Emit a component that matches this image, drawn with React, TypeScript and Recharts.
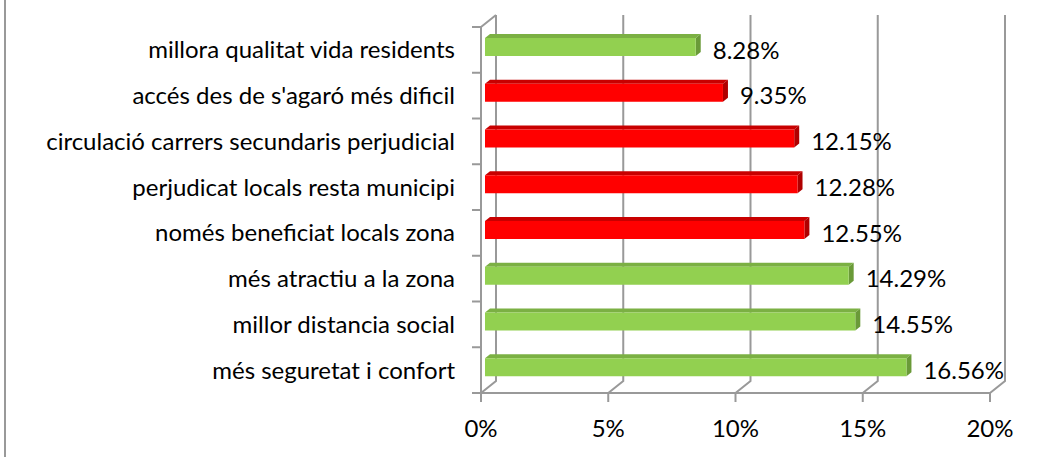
import { BarChart, Bar, XAxis, YAxis, CartesianGrid, LabelList, Cell } from "recharts";

const categories = [
  "millora qualitat vida residents",
  "accés des de s'agaró més dificil",
  "circulació carrers secundaris perjudicial",
  "perjudicat locals resta municipi",
  "només beneficiat locals zona",
  "més atractiu a la zona",
  "millor distancia social",
  "més seguretat i confort",
];
const shares = [8.28, 9.35, 12.15, 12.28, 12.55, 14.29, 14.55, 16.56];
// drawbacks are shown in red, benefits in green
const isDrawback = [false, true, true, true, true, false, false, false];
const xTicks = [0, 5, 10, 15, 20];

const FONT = "Lato, 'Open Sans', sans-serif";
const FONT_SIZE = 24;
const GRID = "#999999";
const DEPTH_X = 15;
const DEPTH_Y = 12;

const GREEN = { front: "#92d050", top: "#7bb043", side: "#6a9a38" };
const RED = { front: "#ff0000", top: "#c80000", side: "#b00000" };

const data = categories.map((name, i) => ({
  name,
  share: shares[i],
  drawback: isDrawback[i],
}));

function Bar3D(props: any) {
  const { x, y, width, height, fill } = props;
  const c = fill === "red" ? RED : GREEN;
  const bx = x + 4;
  const by = y - 3;
  const dx = 5;
  const dy = 4;
  return (
    <g>
      <polygon
        points={`${bx},${by} ${bx + dx},${by - dy} ${bx + width + dx},${by - dy} ${bx + width},${by}`}
        fill={c.top}
      />
      <polygon
        points={`${bx + width},${by} ${bx + width + dx},${by - dy} ${bx + width + dx},${by + height - dy} ${bx + width},${by + height}`}
        fill={c.side}
      />
      <rect x={bx} y={by} width={width} height={height} fill={c.front} />
    </g>
  );
}

function BackLine(props: any) {
  const { x1, y1, y2, index } = props;
  let d = `M${x1 + DEPTH_X},${y1 - DEPTH_Y} L${x1 + DEPTH_X},${y2 - DEPTH_Y} L${x1},${y2}`;
  if (index === 0) d += ` M${x1},${y1} L${x1 + DEPTH_X},${y1 - DEPTH_Y}`;
  return <path key={props.key} d={d} stroke={GRID} strokeWidth={2} fill="none" />;
}

function BoundaryTick(props: any) {
  const { x1, y1 } = props;
  return <line key={props.key} x1={x1 - 9} x2={x1} y1={y1} y2={y1} stroke={GRID} strokeWidth={2} />;
}

export default function App() {
  return (
    <div style={{ position: "absolute", left: 0, top: 0, width: 1056, height: 457, background: "#fff" }}>
      <div style={{ position: "absolute", left: 4, top: 0, width: 2, height: 457, background: GRID }} />
      <BarChart
        width={1056}
        height={457}
        data={data}
        layout="vertical"
        margin={{ top: 27, right: 66, bottom: 0, left: 0 }}
        barSize={18}
      >
        <CartesianGrid
          vertical={BackLine}
          horizontal={BoundaryTick}
          horizontalCoordinatesGenerator={({ offset }: any) =>
            categories.map((_, i) => offset.top + (i * offset.height) / categories.length).concat([offset.top + offset.height])
          }
        />
        <XAxis
          type="number"
          domain={[0, 20]}
          ticks={xTicks}
          tickFormatter={(v: number) => `${v}%`}
          height={64}
          tickSize={9}
          tickMargin={18}
          axisLine={{ stroke: GRID, strokeWidth: 2 }}
          tickLine={{ stroke: GRID, strokeWidth: 2 }}
          tick={{ fontSize: FONT_SIZE, fill: "#000", fontFamily: FONT }}
        />
        <YAxis
          type="category"
          dataKey="name"
          width={481}
          tickLine={false}
          tickSize={0}
          tickMargin={26}
          axisLine={{ stroke: GRID, strokeWidth: 2 }}
          tick={{ fontSize: FONT_SIZE, fill: "#000", fontFamily: FONT }}
        />
        <Bar dataKey="share" shape={Bar3D} isAnimationActive={false}>
          {data.map((d) => (
            <Cell key={d.name} fill={d.drawback ? "red" : "green"} />
          ))}
          <LabelList
            dataKey="share"
            position="right"
            offset={21}
            formatter={(v: any) => `${Number(v).toFixed(2)}%`}
            style={{ fontSize: FONT_SIZE, fill: "#000", fontFamily: FONT }}
          />
        </Bar>
      </BarChart>
    </div>
  );
}
